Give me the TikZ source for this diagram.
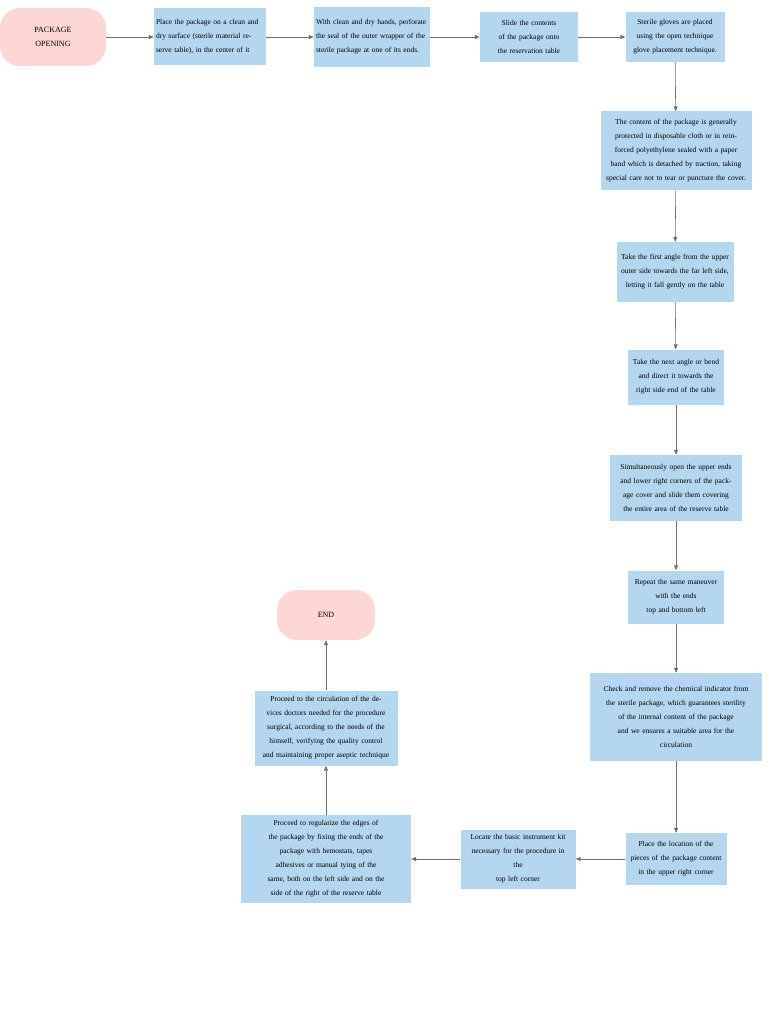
\documentclass[tikz,border=0pt]{standalone}
\usepackage{fontspec}
\setmainfont{Liberation Serif}
\usetikzlibrary{arrows.meta}
\definecolor{boxc}{RGB}{180,214,238}
\definecolor{pinkc}{RGB}{253,215,213}
\definecolor{linec}{RGB}{110,110,110}
\tikzset{
 stepbox/.style={fill=boxc,draw=none,align=center,font=\fontsize{7.5}{14}\selectfont,inner sep=2pt},
 term/.style={fill=pinkc,draw=none,rounded corners=20pt,align=center,font=\fontsize{8}{14}\selectfont},
 conn/.style={draw=linec,line width=0.6pt,-{Triangle[length=5pt,width=4pt]}}
}
\begin{document}
\begin{tikzpicture}[x=1pt,y=-1pt]
\useasboundingbox (0,0) rectangle (768,1024);
\node[term,minimum width=106pt,minimum height=58pt] (s) at (53,37) {PACKAGE\\OPENING};
\node[stepbox,minimum width=112pt,minimum height=57pt,text width=108pt,align=left] (b1) at (210,37) {Place the package on a clean and dry surface (sterile material reserve table), in the center of it};
\node[stepbox,minimum width=116pt,minimum height=60pt,text width=112pt,align=left] (b2) at (372,37) {With clean and dry hands, perforate the seal of the outer wrapper of the sterile package at one of its ends.};
\node[stepbox,minimum width=98pt,minimum height=50pt,text width=92pt] (b3) at (529,37) {Slide the contents of the package onto the reservation table};
\node[stepbox,minimum width=99pt,minimum height=50pt,text width=95pt] (b4) at (675,37) {Sterile gloves are placed using the open technique glove placement technique.};
\node[stepbox,minimum width=151pt,minimum height=79pt,text width=147pt] (b5) at (676,151) {The content of the package is generally protected in disposable cloth or in reinforced polyethylene sealed with a paper band which is detached by traction, taking special care not to tear or puncture the cover.};
\node[stepbox,minimum width=117pt,minimum height=60pt,text width=113pt] (b6) at (675,272) {Take the first angle from the upper outer side towards the far left side, letting it fall gently on the table};
\node[stepbox,minimum width=96pt,minimum height=55pt,text width=92pt] (b7) at (676,377) {Take the next angle or bend and direct it towards the right side end of the table};
\node[stepbox,minimum width=131pt,minimum height=66pt,text width=128pt] (b8) at (676,488) {Simultaneously open the upper ends and lower right corners of the package cover and slide them covering the entire area of the reserve table};
\node[stepbox,minimum width=96pt,minimum height=53pt,text width=92pt] (b9) at (676,597) {Repeat the same maneuver\\with the ends\\top and bottom left};
\node[stepbox,minimum width=170pt,minimum height=88pt,text width=168pt] (b10) at (676,717) {Check and remove the chemical indicator from the sterile package, which guarantees sterility\\of the internal content of the package and we ensures a suitable area for the\\circulation};
\node[stepbox,minimum width=101pt,minimum height=52pt,text width=97pt] (b11) at (676,859) {Place the location of the pieces of the package content in the upper right corner};
\node[stepbox,minimum width=115pt,minimum height=59pt,text width=111pt] (b12) at (518,859) {Locate the basic instrument kit necessary for the procedure in\\the\\top left corner};
\node[stepbox,minimum width=170pt,minimum height=88pt,text width=166pt] (b13) at (326,859) {Proceed to regularize the edges of the package by fixing the ends of the\\package with hemostats, tapes\\adhesives or manual tying of the same, both on the left side and on the side of the right of the reserve table};
\node[stepbox,minimum width=143pt,minimum height=75pt,text width=139pt] (b14) at (326,728) {Proceed to the circulation of the devices doctors needed for the procedure surgical, according to the needs of the himself, verifying the quality control and maintaining proper aseptic technique};
\node[term,minimum width=98pt,minimum height=50pt] (e) at (326,615) {END};
\draw[conn] (s) -- (b1);
\draw[conn] (b1) -- (b2);
\draw[conn] (b2) -- (b3);
\draw[conn] (b3) -- (b4);
\draw[conn] (b4) -- (b5);
\draw[conn] (b5) -- (b6);
\draw[conn] (b6) -- (b7);
\draw[conn] (b7) -- (b8);
\draw[conn] (b8) -- (b9);
\draw[conn] (b9) -- (b10);
\draw[conn] (b10) -- (b11);
\draw[conn] (b11) -- (b12);
\draw[conn] (b12) -- (b13);
\draw[conn] (b13) -- (b14);
\draw[conn] (b14) -- (e);
\end{tikzpicture}
\end{document}
